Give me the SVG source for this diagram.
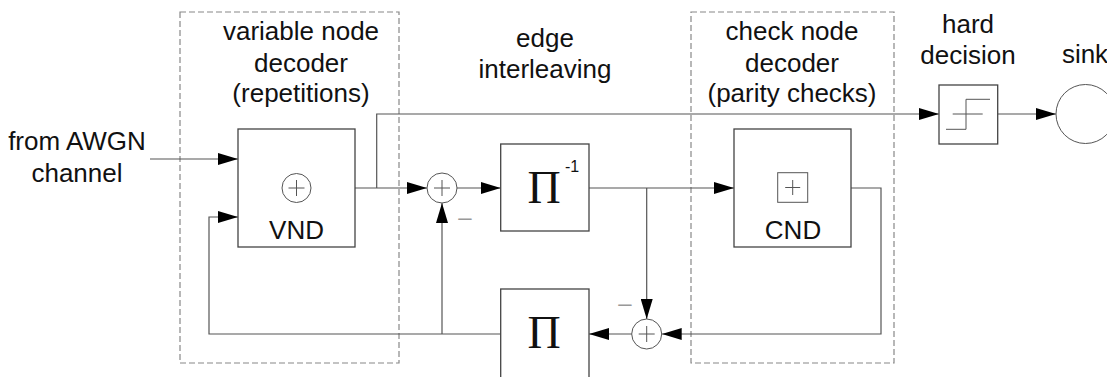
<svg xmlns="http://www.w3.org/2000/svg" width="1107" height="377" viewBox="0 0 1107 377">
  <defs>
    <marker id="arr" viewBox="0 0 20 12" refX="20" refY="6" markerWidth="20" markerHeight="12" markerUnits="userSpaceOnUse" orient="auto">
      <path d="M0,0 L20,6 L0,12 Z" fill="#000"/>
    </marker>
    <style>
      .lbl { font-family: "Liberation Sans", Arial, sans-serif; font-size: 26px; fill: #111; text-anchor: middle; }
      .sym { font-family: "Liberation Serif", "Times New Roman", serif; font-size: 46px; fill: #111; text-anchor: middle; }
      .sup { font-family: "Liberation Sans", Arial, sans-serif; font-size: 16px; fill: #111; }
      .blk { fill: #fff; stroke: #444; stroke-width: 1.3; }
      .grp { fill: none; stroke: #888; stroke-width: 1.2; stroke-dasharray: 6 3; }
      .arw { fill: none; stroke: #555; stroke-width: 1.2; marker-end: url(#arr); }
      .thin { fill: none; stroke: #555; stroke-width: 1; }
      .minus { font-family: "Liberation Sans", Arial, sans-serif; font-size: 24px; font-weight: 300; fill: #999; text-anchor: middle; }
    </style>
  </defs>

  <!-- dashed decoder groupings -->
  <g id="vnd-group">
    <rect class="grp" x="180" y="12" width="219" height="351"/>
    <text class="lbl" x="301" y="40">variable node</text>
    <text class="lbl" x="301" y="72">decoder</text>
    <text class="lbl" x="301" y="102">(repetitions)</text>
  </g>
  <g id="cnd-group">
    <rect class="grp" x="691" y="12" width="203" height="351"/>
    <text class="lbl" x="792" y="40">check node</text>
    <text class="lbl" x="792" y="72">decoder</text>
    <text class="lbl" x="792" y="102">(parity checks)</text>
  </g>
  <g id="interleaving-label">
    <text class="lbl" x="545" y="47">edge</text>
    <text class="lbl" x="545" y="78">interleaving</text>
  </g>
  <g id="source-label">
    <text class="lbl" x="77" y="150">from AWGN</text>
    <text class="lbl" x="77" y="182">channel</text>
  </g>

  <!-- connectors -->
  <g id="connectors">
    <line class="arw" x1="150" y1="159" x2="238" y2="159"/>
    <polyline class="arw" points="500.7,334 209,334 209,217 238,217"/>
    <line class="arw" x1="442" y1="334" x2="442" y2="203"/>
    <line class="arw" x1="355" y1="188" x2="427" y2="188"/>
    <polyline class="arw" points="376.7,188 376.7,114 939,114"/>
    <line class="arw" x1="457" y1="188" x2="500.7" y2="188"/>
    <line class="arw" x1="589" y1="188" x2="734" y2="188"/>
    <line class="arw" x1="646.7" y1="188" x2="646.7" y2="319"/>
    <polyline class="arw" points="851,188 881,188 881,334 661.7,334"/>
    <line class="arw" x1="631.7" y1="334" x2="589" y2="334"/>
    <line class="arw" x1="998" y1="114" x2="1056" y2="114"/>
    <text class="minus" x="465" y="225">–</text>
    <text class="minus" x="625" y="311">–</text>
  </g>

  <g id="vnd">
    <rect class="blk" x="238" y="129" width="117" height="118"/>
    <circle class="thin" cx="296.5" cy="188" r="14.5"/>
    <path class="thin" d="M288.5,188 H304.5 M296.5,180 V196"/>
    <text class="lbl" x="296.5" y="239">VND</text>
  </g>

  <g id="sum-top">
    <circle class="thin" cx="442" cy="188" r="15" fill="#fff"/>
    <path class="thin" d="M434,188 H450 M442,180 V196"/>
  </g>

  <g id="deinterleaver">
    <rect class="blk" x="500.7" y="144" width="88.3" height="87"/>
    <text class="sym" x="544" y="202.7">Π</text>
    <text class="sup" x="565" y="172">-1</text>
  </g>

  <g id="interleaver">
    <rect class="blk" x="500.7" y="289" width="88.3" height="95"/>
    <text class="sym" x="544" y="347.7">Π</text>
  </g>

  <g id="sum-bottom">
    <circle class="thin" cx="646.7" cy="334" r="15" fill="#fff"/>
    <path class="thin" d="M638.7,334 H654.7 M646.7,326 V342"/>
  </g>

  <g id="cnd">
    <rect class="blk" x="734" y="129" width="117" height="118"/>
    <rect class="thin" x="777.7" y="172.7" width="30" height="29.6"/>
    <path class="thin" d="M785.2,187.5 H800.2 M792.7,180 V195"/>
    <text class="lbl" x="793" y="239">CND</text>
  </g>

  <g id="hard-decision">
    <text class="lbl" x="968" y="33">hard</text>
    <text class="lbl" x="968" y="64">decision</text>
    <rect class="blk" x="939" y="85" width="58.7" height="59"/>
    <line class="thin" x1="952.7" y1="114" x2="982.7" y2="114" stroke="#888"/>
    <polyline class="thin" points="946,129.3 966,129.3 966,99.3 990,99.3"/>
  </g>

  <g id="sink">
    <text class="lbl" x="1085" y="63">sink</text>
    <circle class="thin" cx="1085.5" cy="114" r="29.5" fill="#fff"/>
  </g>
</svg>
